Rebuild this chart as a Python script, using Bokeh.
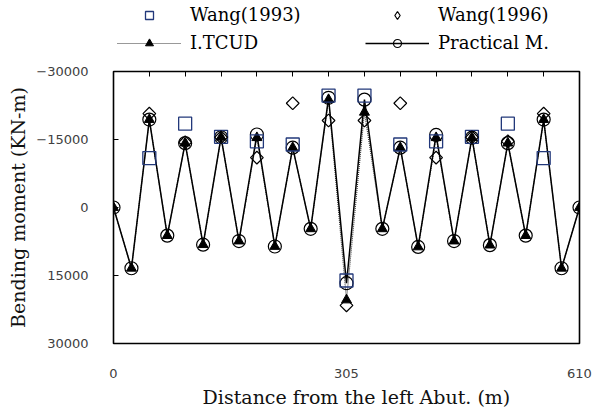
import numpy as np
from bokeh.plotting import figure
from bokeh.layouts import column
from bokeh.models import (Range1d, FixedTicker, LinearAxis, Legend, LegendItem)
from bokeh.core.properties import value
from bokeh.embed import file_html
from bokeh.resources import INLINE

# ---- data ----
distance = [0, 23.5, 46.9, 70.4, 93.8, 117.3, 140.8, 164.2, 187.7, 211.2, 234.6,
            258.1, 281.5, 305, 328.5, 351.9, 375.4, 398.8, 422.3, 445.8, 469.2,
            492.7, 516.2, 539.6, 563.1, 586.5, 610]

practical_m = [0, 13400, -19400, 6200, -14200, 8200, -15500, 7400, -16100, 8600,
               -13200, 4700, -24200, 16700, -23800, 4700, -13200, 8700, -16000,
               7400, -15400, 8300, -14200, 6200, -19400, 13400, 0]

itcud = [0, 13400, -19400, 6200, -14200, 8200, -15500, 7400, -15400, 8600,
         -13200, 4700, -23800, 20400, -21000, 4700, -13200, 8700, -15400,
         7400, -15400, 8300, -14200, 6200, -19400, 13400, 0]

wang1993_x = [46.9, 93.8, 140.8, 187.7, 234.6, 281.5, 305, 328.5, 375.4, 422.3,
              469.2, 516.2, 563.1]
wang1993 = [-10900, -18500, -15600, -14600, -13900, -24700, 16100, -24700,
            -13900, -14600, -15600, -18500, -10900]

wang1996_x = [46.9, 93.8, 140.8, 187.7, 234.6, 281.5, 305, 328.5, 375.4, 422.3,
              469.2, 516.2, 563.1]
wang1996 = [-20700, -14400, -15500, -11000, -23000, -19200, 21600, -19200,
            -23000, -11000, -15500, -14600, -20700]

x_ticks = [0, 305, 610]
y_ticks = [-30000, -15000, 0, 15000, 30000]
y_tick_labels = ["\u221230000", "\u221215000", "0", "15000", "30000"]
x_title = "Distance from the left Abut. (m)"
y_title = "Bending moment (KN-m)"
series_names = ["Wang(1993)", "Wang(1996)", "I.TCUD", "Practical M."]

SERIF = "DejaVu Serif"
SANS = "DejaVu Sans"
W = 593

# ---- marker styles ----
sty_w3 = dict(marker="square", size=13, line_color="#22387a", line_width=1.3, fill_color=None)
sty_w6 = dict(marker="square", size=9, angle=np.pi / 4, line_color="black",
              line_width=1.2, fill_color=None)
sty_w6_leg = dict(marker="diamond", size=10, line_color="black",
                  line_width=1.2, fill_color=None)
sty_it_line = dict(line_color="#333333", line_width=1.1, line_dash="1 1")
sty_it_mk = dict(marker="triangle", size=10, line_color="black", fill_color="black")
sty_pm_line = dict(line_color="black", line_width=1.5)
sty_pm_mk = dict(marker="circle", size=13, line_color="black", line_width=1.2, fill_color=None)

# ================= main plot =================
p = figure(width=W, height=327, output_backend="svg", toolbar_location=None,
           x_range=Range1d(0, 610), y_range=Range1d(30000, -30000),
           min_border_left=113, min_border_right=14, min_border_top=11,
           min_border_bottom=44)
p.grid.visible = False
p.outline_line_color = "black"
p.outline_line_width = 1.6
p.background_fill_color = "white"
p.border_fill_color = "white"

xa = p.xaxis[0]
xa.ticker = FixedTicker(ticks=x_ticks)
xa.axis_line_color = None
xa.major_tick_in = 0
xa.major_tick_out = 0
xa.minor_tick_line_color = None
xa.major_label_text_font = SANS
xa.major_label_text_font_size = "13px"
xa.major_label_text_color = "#404040"
xa.major_label_standoff = 25

ya = p.yaxis[0]
ya.ticker = FixedTicker(ticks=y_ticks)
ya.major_label_overrides = {t: l for t, l in zip(y_ticks, y_tick_labels)}
ya.axis_line_color = None
ya.major_tick_in = 5
ya.major_tick_out = 0
ya.major_tick_line_color = "black"
ya.minor_tick_line_color = None
ya.major_label_text_font = SANS
ya.major_label_text_font_size = "13px"
ya.major_label_text_color = "#404040"
ya.major_label_standoff = 25
ya.axis_label = y_title
ya.axis_label_text_font = SERIF
ya.axis_label_text_font_size = "19px"
ya.axis_label_text_font_style = "normal"
ya.axis_label_text_color = "#111111"
ya.axis_label_standoff = 4

top_ticks = distance[2:25:2]
top = LinearAxis(ticker=FixedTicker(ticks=top_ticks))
top.axis_line_color = None
top.major_tick_in = 5
top.major_tick_out = 0
top.minor_tick_line_color = None
top.major_label_overrides = {t: "" for t in top_ticks}
top.major_label_text_font_size = "0px"
top.major_label_standoff = 0
p.add_layout(top, "above")

p.line(distance, itcud, **sty_it_line)
p.line(distance, practical_m, **sty_pm_line)
p.scatter(distance, practical_m, **sty_pm_mk)
p.scatter(distance, itcud, **sty_it_mk)
p.scatter(wang1993_x, wang1993, **sty_w3)
p.scatter(wang1996_x, wang1996, **sty_w6)

# ================= legend strip =================
lf = figure(width=W, height=60, output_backend="svg", toolbar_location=None,
            x_range=Range1d(0, 1), y_range=Range1d(0, 1),
            x_axis_location=None, y_axis_location=None,
            min_border=0)
lf.grid.visible = False
lf.outline_line_color = None
nan1, nan2 = [np.nan], [np.nan, np.nan]
r_w3 = lf.scatter(nan1, nan1, **sty_w3)
r_w6 = lf.scatter(nan1, nan1, **sty_w6_leg)
r_itl = lf.line(nan2, nan2, **sty_it_line)
r_itm = lf.scatter(nan1, nan1, **sty_it_mk)
r_pml = lf.line(nan2, nan2, **sty_pm_line)
r_pmm = lf.scatter(nan1, nan1, **sty_pm_mk)

def make_legend(items, loc):
    lg = Legend(items=items, location=loc, orientation="vertical")
    lg.glyph_width = 64
    lg.glyph_height = 20
    lg.label_height = 18
    lg.label_standoff = 9
    lg.spacing = 7
    lg.padding = 0
    lg.margin = 0
    lg.border_line_color = None
    lg.background_fill_alpha = 0
    lg.label_text_font = SERIF
    lg.label_text_font_size = "18px"
    lg.label_text_color = "black"
    return lg

leg1 = make_legend([LegendItem(label=series_names[0], renderers=[r_w3]),
                    LegendItem(label=series_names[2], renderers=[r_itl, r_itm])], (4, 7))
leg2 = make_legend([LegendItem(label=series_names[1], renderers=[r_w6]),
                    LegendItem(label=series_names[3], renderers=[r_pml, r_pmm])], (252, 7))
lf.add_layout(leg1, "center")
lf.add_layout(leg2, "center")

# ================= x-axis title strip =================
xf = figure(width=W, height=24, output_backend="svg", toolbar_location=None,
            x_range=Range1d(0, 610), y_range=Range1d(0, 24),
            x_axis_location=None, y_axis_location=None, min_border=0)
xf.grid.visible = False
xf.outline_line_color = None
xf.text(x=[318], y=[15], text=[x_title], text_font=value(SERIF),
        text_font_size="19px", text_align="center", text_baseline="middle",
        text_color="#111111")

layout = column(lf, p, xf, spacing=0)
open("out.html", "w").write(file_html(layout, INLINE))
